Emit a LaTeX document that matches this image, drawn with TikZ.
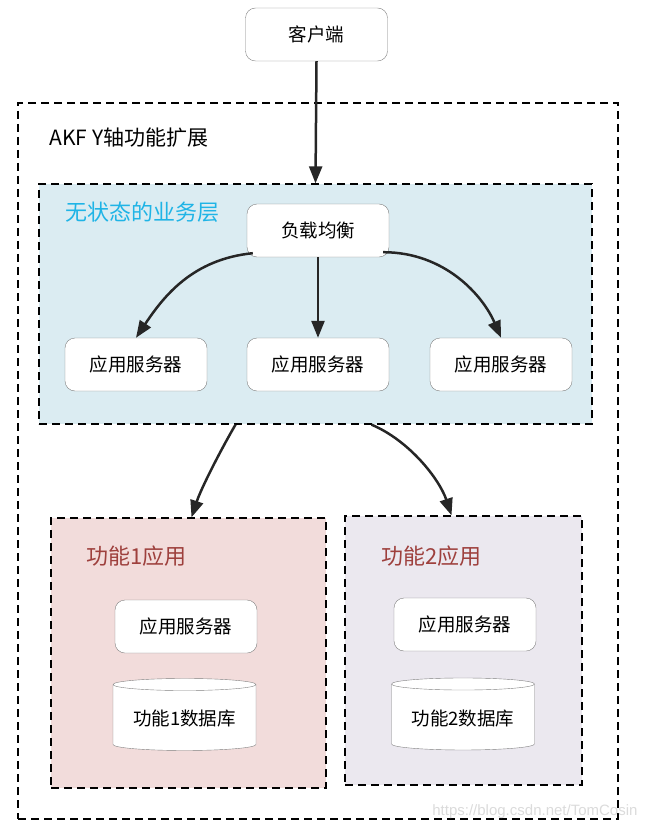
\documentclass[tikz,border=0pt]{standalone}
\usepackage{fontspec}
\newfontfamily\cjk{Noto Sans CJK SC}
\setsansfont{Liberation Sans}
\usetikzlibrary{arrows.meta,shapes.geometric}
\definecolor{layerblue}{HTML}{DBECF2}
\definecolor{layertext}{HTML}{1FB4E6}
\definecolor{apponefill}{HTML}{F2DCDB}
\definecolor{apptwofill}{HTML}{EBE8EF}
\definecolor{apptext}{HTML}{9E403D}
\definecolor{arrowgray}{HTML}{262626}
\begin{document}
\begin{tikzpicture}[x=1pt,y=-1pt,
  box/.style={draw=black!50,rounded corners=10pt,fill=white,minimum width=142pt,minimum height=53pt,
    font=\cjk\fontsize{18.5}{20}\selectfont},
  db/.style={cylinder,shape border rotate=90,aspect=0.11,draw=black!50,fill=white,
    minimum width=143pt,minimum height=72pt,font=\cjk\fontsize{18.5}{20}\selectfont},
  zone/.style={draw=black,line width=1.3pt,dash pattern=on 8pt off 5pt,inner sep=0pt},
  zonelabel/.style={anchor=west,font=\cjk\fontsize{22}{24}\selectfont},
  link/.style={draw=arrowgray,line width=2.5pt,-{Triangle[length=17pt,width=13pt]}}]
\useasboundingbox (0,0) rectangle (647,829);
% outer frame
\node[zone,minimum width=600pt,minimum height=716pt] (akf) at (318,461) {};
\node[zonelabel,font=\cjk\fontsize{21}{24}\selectfont] (title) at (46,138) {AKF Y轴功能扩展};
% stateless layer
\node[zone,fill=layerblue,minimum width=553pt,minimum height=240pt] (stateless) at (315.5,304) {};
\node[zonelabel,text=layertext] (statelesslabel) at (62,212) {无状态的业务层};
\node[box] (client) at (316.5,34.5) {客户端};
\node[box] (lb) at (318,230.5) {负载均衡};
\node[box] (srv1) at (136,364.5) {应用服务器};
\node[box] (srv2) at (318,364.5) {应用服务器};
\node[box] (srv3) at (501,364.5) {应用服务器};
% function zones
\node[zone,fill=apponefill,minimum width=275pt,minimum height=270pt] (app1) at (188.5,653) {};
\node[zone,fill=apptwofill,minimum width=237pt,minimum height=269pt] (app2) at (463.5,650.5) {};
\node[zonelabel,text=apptext] (app1label) at (83,556) {功能1应用};
\node[zonelabel,text=apptext] (app2label) at (378,556) {功能2应用};
\node[box] (app1srv) at (186,626.5) {应用服务器};
\node[db] (app1db) at (184.5,718.5) {功能1数据库};
\node[box] (app2srv) at (465,624.5) {应用服务器};
\node[db] (app2db) at (463,718) {功能2数据库};
% arrows
\draw[link] (client.south) -- (stateless.north);
\draw[link] ([xshift=6pt,yshift=4pt]lb.south west) .. controls +(-60,6) and +(28,-42) .. (srv1.north);
\draw[link] (lb.south) -- (srv2.north);
\draw[link] ([xshift=-6pt,yshift=5pt]lb.south east) .. controls +(62,0) and +(-18,-42) .. (srv3.north);
\draw[link] ([xshift=-80pt]stateless.south) .. controls +(-14,24) and +(10,-30) .. ([xshift=3pt]app1.north);
\draw[link] ([xshift=56pt]stateless.south) .. controls +(38,16) and +(-12,-36) .. ([xshift=-12pt]app2.north);
\node[font=\sffamily\fontsize{15}{17}\selectfont,text=black!14,anchor=east] (mark) at (641,812) {https://blog.csdn.net/TomCosin};
\end{tikzpicture}
\end{document}
